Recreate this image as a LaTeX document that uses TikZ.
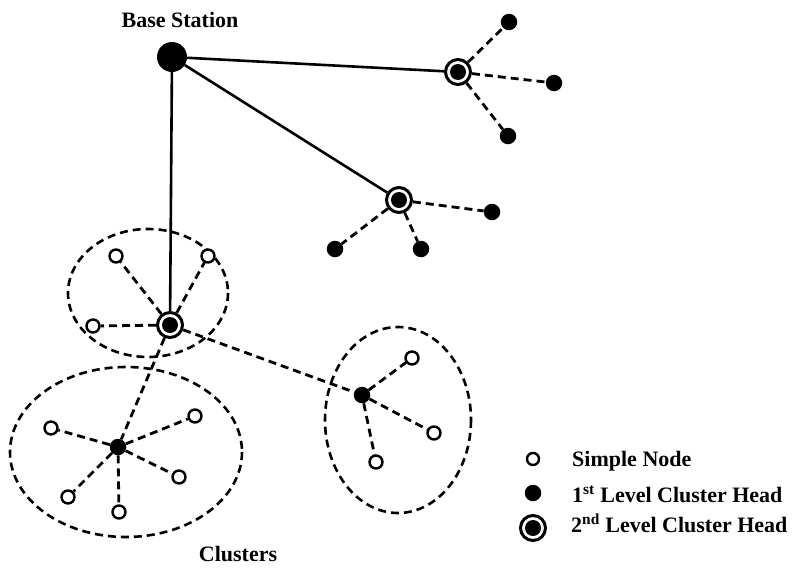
\documentclass[tikz,border=0pt]{standalone}
\usepackage{fontspec}
\setmainfont{Liberation Serif}
\begin{document}
\begin{tikzpicture}[x=1pt,y=-1pt,
  simple/.style={circle,draw,line width=2.4pt,fill=white,minimum size=13pt,inner sep=0pt},
  headone/.style={circle,fill=black,minimum size=16.5pt,inner sep=0pt},
  headtwo/.style={circle,draw,line width=3pt,fill=white,minimum size=25pt,inner sep=0pt,
    path picture={\fill[black] (path picture bounding box.center) circle (8pt);}},
  base/.style={circle,fill=black,minimum size=30pt,inner sep=0pt},
  link/.style={line width=2.6pt},
  dlink/.style={line width=2.8pt,dash pattern=on 8pt off 5pt},
  cluster/.style={line width=2.6pt,dash pattern=on 8pt off 5pt},
  label/.style={font=\bfseries\fontsize{22}{26}\selectfont,inner sep=0pt}]
\useasboundingbox (0,0) rectangle (794,568);

% cluster boundaries
\draw[cluster] (148,293) ellipse [x radius=80, y radius=64];
\draw[cluster] (126,452) ellipse [x radius=116, y radius=85];
\draw[cluster] (398,420) ellipse [x radius=73, y radius=93];

% base station and second level heads
\node[base] (bs) at (172,57) {};
\node[headtwo] (ha) at (458,72) {};
\node[headtwo] (hb) at (399,200) {};
\node[headtwo] (hc) at (170,325) {};

% first level heads
\node[headone] (a1) at (509,22) {};
\node[headone] (a2) at (554,83) {};
\node[headone] (a3) at (508,136) {};
\node[headone] (b1) at (492,212) {};
\node[headone] (b2) at (335,249) {};
\node[headone] (b3) at (421,249) {};

% upper cluster
\node[simple] (c1) at (116,256) {};
\node[simple] (c2) at (208,256) {};
\node[simple] (c3) at (93,326) {};

% lower left cluster
\node[headone] (d) at (118,447) {};
\node[simple] (d1) at (51,428) {};
\node[simple] (d2) at (195,416) {};
\node[simple] (d3) at (179,477) {};
\node[simple] (d4) at (68,497) {};
\node[simple] (d5) at (119,512) {};

% right cluster
\node[headone] (e) at (362,395) {};
\node[simple] (e1) at (412,358) {};
\node[simple] (e2) at (434,433) {};
\node[simple] (e3) at (376,462) {};

% links
\draw[link] (bs) -- (ha);
\draw[link] (bs) -- (hb);
\draw[link] (bs) -- (hc);
\foreach \n in {a1,a2,a3} \draw[dlink] (ha) -- (\n);
\foreach \n in {b1,b2,b3} \draw[dlink] (hb) -- (\n);
\foreach \n in {c1,c2,c3} \draw[dlink] (hc) -- (\n);
\draw[dlink] (hc) -- (d);
\draw[dlink] (hc) -- (e);
\foreach \n in {d1,d2,d3,d4,d5} \draw[dlink] (d) -- (\n);
\foreach \n in {e1,e2,e3} \draw[dlink] (e) -- (\n);

% labels
\node[label,anchor=base] (bslabel) at (180,27) {Base Station};
\node[label,anchor=base] (clabel) at (238,561) {Clusters};

% legend
\node[simple,minimum size=12pt] (ls) at (533,459) {};
\node[headone] (l1) at (533,493) {};
\node[headtwo] (l2) at (533,528) {};
\node[label,anchor=base west] (ts) at (572,466) {Simple Node};
\node[label,anchor=base west] (t1) at (572,502) {1\textsuperscript{st} Level Cluster Head};
\node[label,anchor=base west] (t2) at (571,532) {2\textsuperscript{nd} Level Cluster Head};
\end{tikzpicture}
\end{document}
